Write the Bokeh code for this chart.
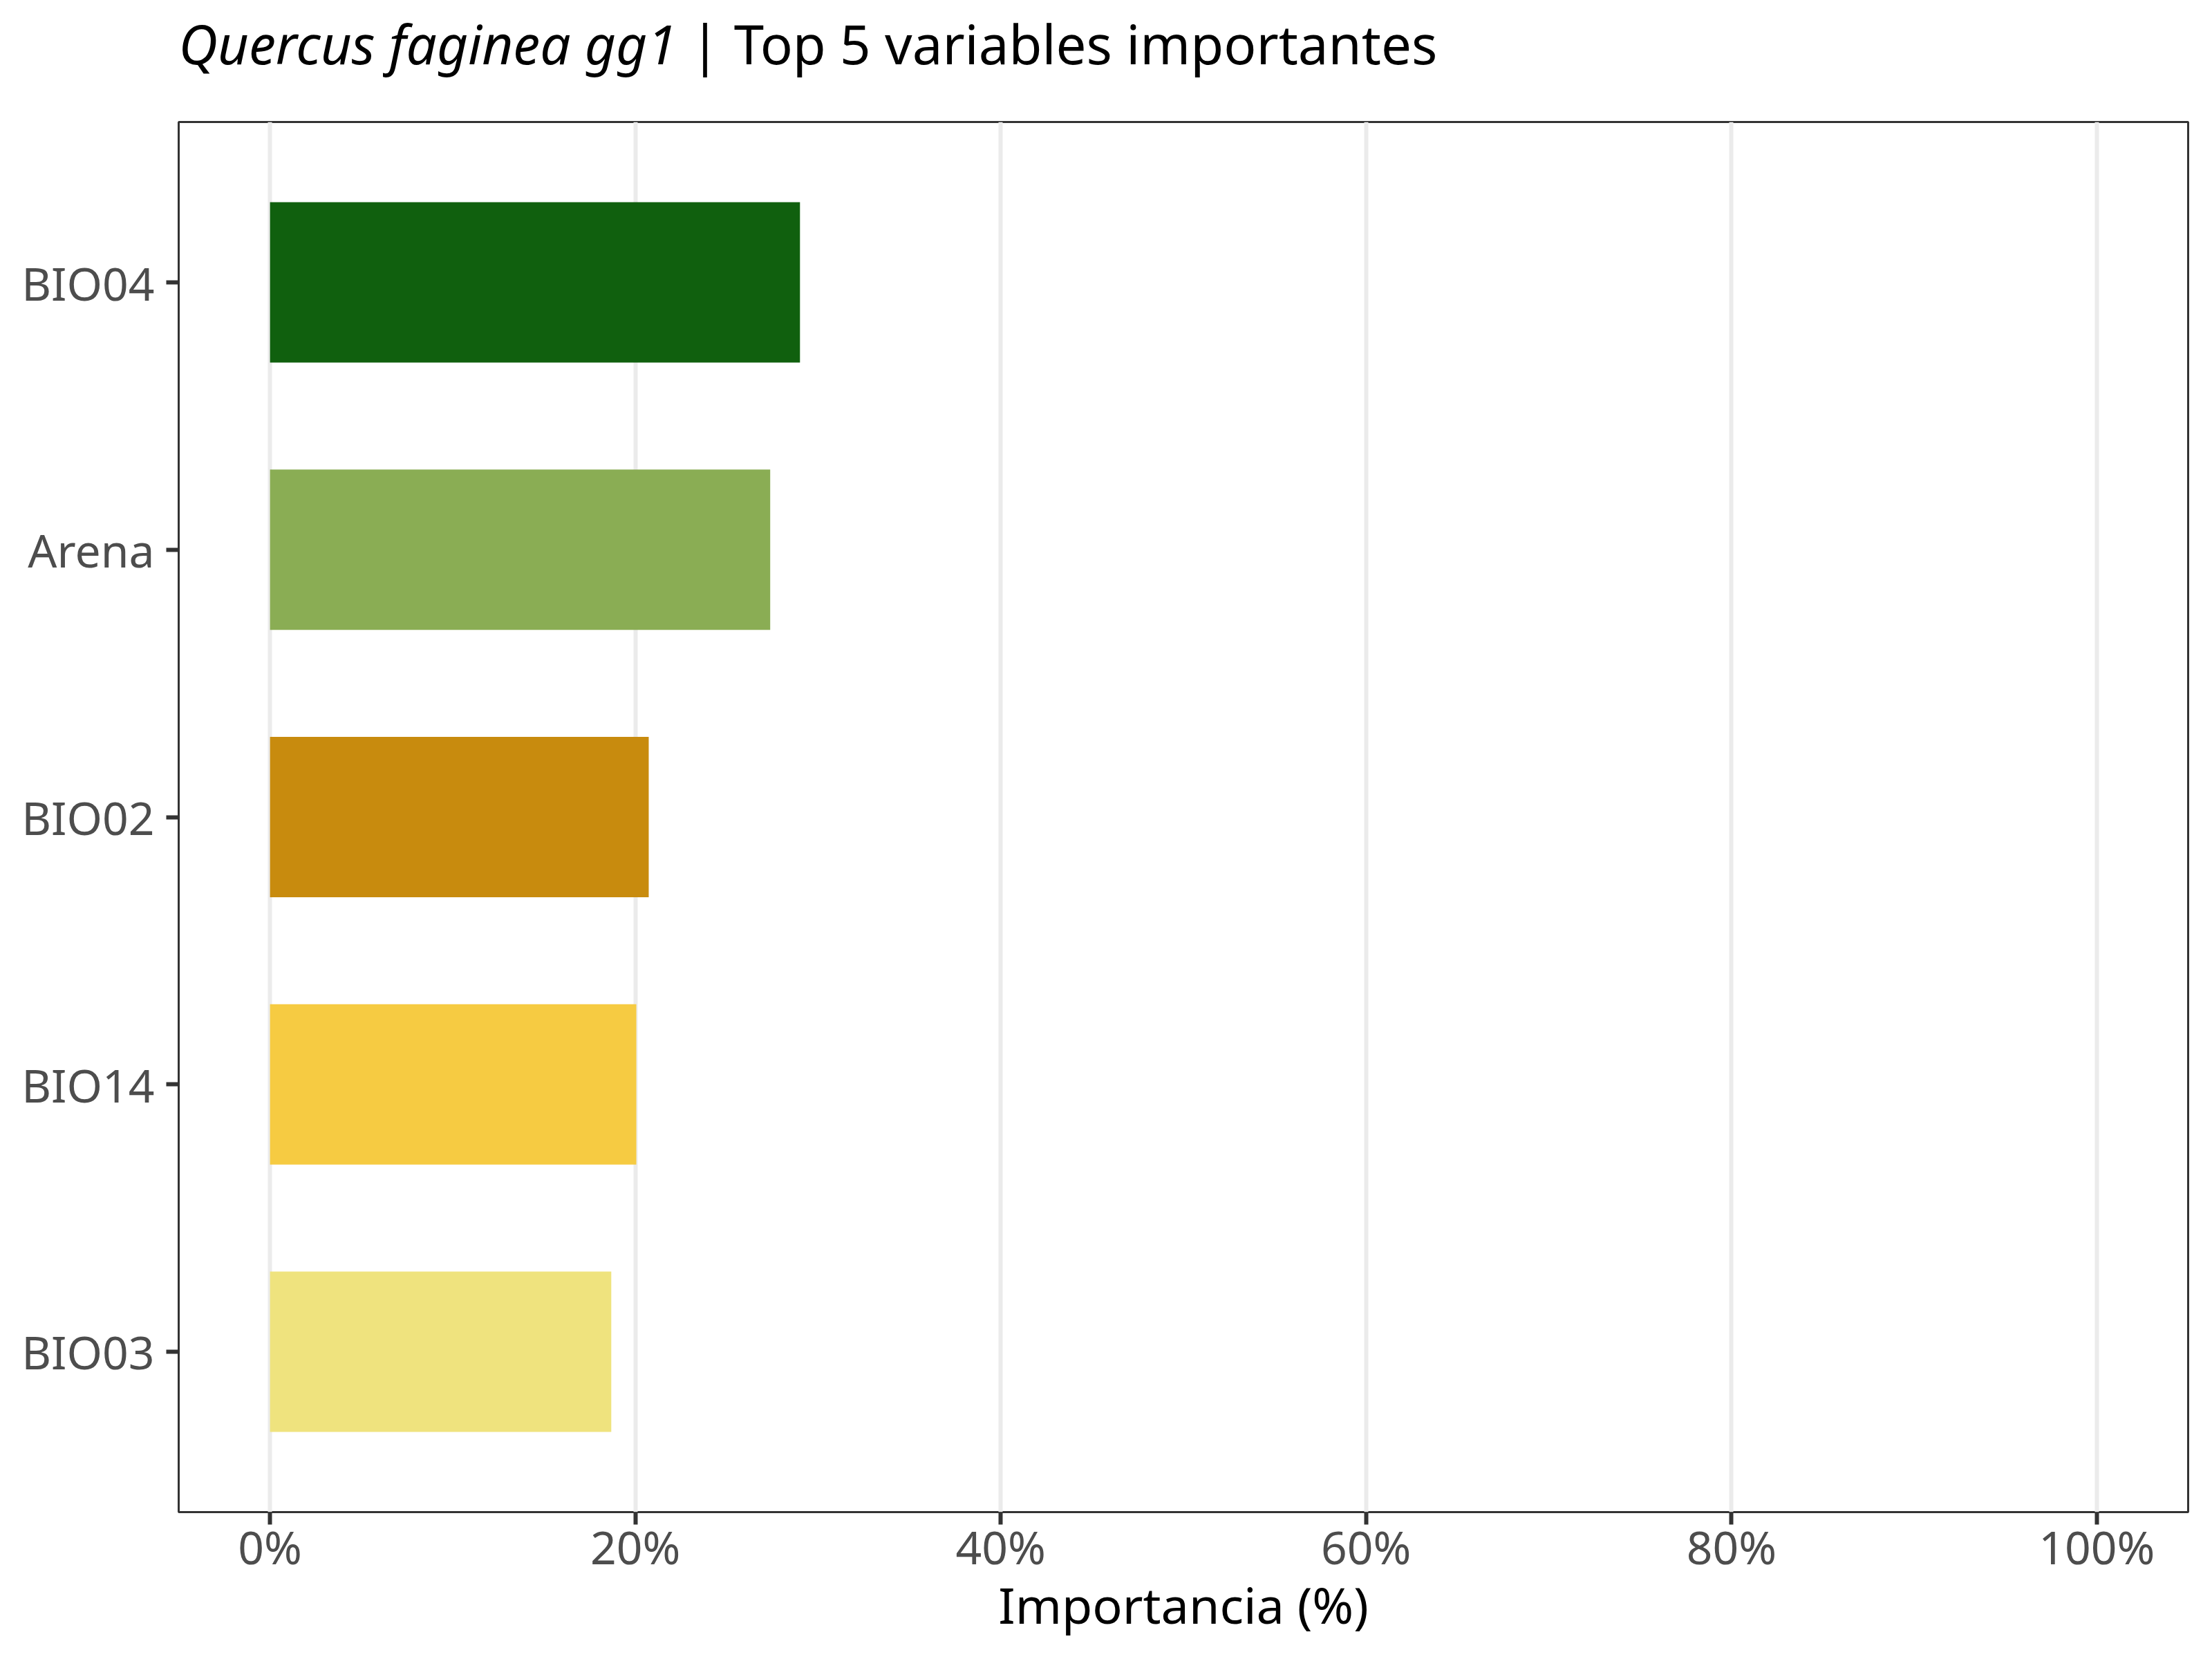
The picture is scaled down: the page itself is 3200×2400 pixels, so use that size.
from bokeh.plotting import figure
from bokeh.layouts import column
from bokeh.models import ColumnDataSource, FactorRange, FixedTicker
from bokeh.core.properties import value
from bokeh.embed import file_html
from bokeh.resources import INLINE

# Data (bottom to top, as drawn)
variables = ["BIO03", "BIO14", "BIO02", "Arena", "BIO04"]
importance = [18.68, 20.05, 20.73, 27.38, 29.01]
bar_colors = ["#EFE37E", "#F6CB42", "#C88B0E", "#8AAD54", "#10600E"]

x_ticks = [0, 20, 40, 60, 80, 100]
x_tick_labels = ["0%", "20%", "40%", "60%", "80%", "100%"]

title_species = "Quercus faginea gg1"
title_rest = "| Top 5 variables importantes"

FONT = "Noto Sans"
WIDTH = 3184
TITLE_H = 172
FRAME_W = 3165 - 258   # the column aligns the title strip's frame with the panel

# Title strip: italic species name followed by plain text
t = figure(width=WIDTH, height=TITLE_H, x_range=(0, FRAME_W), y_range=(0, TITLE_H),
           output_backend="svg", toolbar_location=None, min_border=0)
t.axis.visible = False
t.grid.grid_line_color = None
t.outline_line_color = None
t.text(x=[0], y=[110], text=[title_species], text_font=value(FONT),
       text_font_size="78px", text_font_style="italic", text_color="black",
       text_align="left", text_baseline="alphabetic")
t.text(x=[740], y=[110], text=[title_rest], text_font=value(FONT),
       text_font_size="78px", text_color="black",
       text_align="left", text_baseline="alphabetic")

source = ColumnDataSource(data=dict(
    variable=variables,
    importance=importance,
    color=bar_colors,
))

p = figure(width=WIDTH, height=2400 - 16 - TITLE_H,
           y_range=FactorRange(factors=variables, range_padding=0.1,
                               range_padding_units="absolute"),
           x_range=(-5, 105),
           output_backend="svg", toolbar_location=None,
           min_border_left=258, min_border_right=19,
           min_border_top=4, min_border_bottom=197)

p.hbar(y="variable", right="importance", left=0, height=0.6,
       fill_color="color", line_color=None, source=source)

# panel border
p.outline_line_color = "#333333"
p.outline_line_width = 3

# grid
p.ygrid.grid_line_color = None
p.xgrid.grid_line_color = "#EBEBEB"
p.xgrid.grid_line_width = 6
p.xaxis.ticker = FixedTicker(ticks=x_ticks)
p.xaxis.major_label_overrides = {tk: lab for tk, lab in zip(x_ticks, x_tick_labels)}

for ax in (p.xaxis, p.yaxis):
    ax.axis_line_color = None
    ax.major_tick_line_color = "#333333"
    ax.major_tick_line_width = 6
    ax.major_tick_out = 18
    ax.major_tick_in = 0
    ax.minor_tick_line_color = None
    ax.major_label_text_font = FONT
    ax.major_label_text_font_size = "66px"
    ax.major_label_text_color = "#4D4D4D"

p.yaxis.major_label_standoff = 17
p.xaxis.major_label_standoff = -14

p.xaxis.axis_label = "Importancia (%)"
p.xaxis.axis_label_text_font = FONT
p.xaxis.axis_label_text_font_size = "72px"
p.xaxis.axis_label_text_font_style = "normal"
p.xaxis.axis_label_text_color = "black"
p.xaxis.axis_label_standoff = -13

open("out.html", "w").write(file_html(column(t, p), INLINE))
